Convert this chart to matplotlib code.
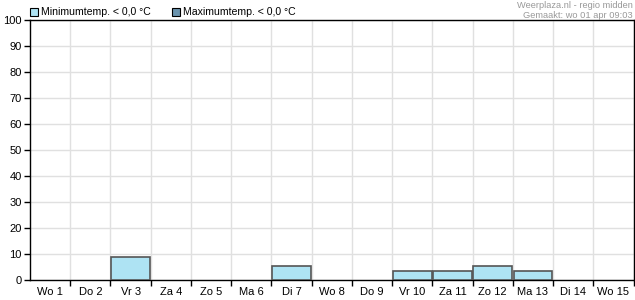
import numpy as np
import matplotlib
matplotlib.use("Agg")
import matplotlib.pyplot as plt
from matplotlib.patches import Rectangle

plt.rcParams["font.family"] = ["Liberation Sans", "DejaVu Sans"]

days = ["Wo 1", "Do 2", "Vr 3", "Za 4", "Zo 5", "Ma 6", "Di 7", "Wo 8",
        "Do 9", "Vr 10", "Za 11", "Zo 12", "Ma 13", "Di 14", "Wo 15"]
min_below_zero = [0, 0, 9, 0, 0, 0, 5.5, 0, 0, 3.5, 3.5, 5.5, 3.5, 0, 0]
max_below_zero = [0] * 15
yticks = list(range(0, 101, 10))

min_color = "#aee3f3"
max_color = "#6a93ad"

fig = plt.figure(figsize=(6.35, 3.0), dpi=100)
ax = fig.add_axes([30 / 635, 20 / 300, 603.5 / 635, 260 / 300])

x = np.arange(len(days))
for vals, col in [(min_below_zero, min_color), (max_below_zero, max_color)]:
    edges = ["#555555" if v > 0 else "none" for v in vals]
    ax.bar(x, vals, width=0.96, color=col, edgecolor=edges,
           linewidth=1.2, zorder=3)

ax.set_xlim(-0.5, len(days) - 0.5)
ax.set_ylim(0, 100)
ax.set_yticks(yticks)
ax.set_xticks(x + 0.5, minor=False)
ax.set_xticklabels([])
ax.set_xticks(x, minor=True)
ax.set_xticklabels(days, minor=True, fontsize=8)
ax.tick_params(axis="x", which="minor", length=0, pad=5)
ax.tick_params(axis="x", which="major", length=4, width=1, color="black")
ax.tick_params(axis="y", length=4, width=1, labelsize=8, pad=2)
ax.grid(True, which="major", color="#e0e0e0", linewidth=1, zorder=0)
for s in ax.spines.values():
    s.set_color("black")
    s.set_linewidth(1)

# legend drawn as in the original header
for lx, col, label in [(30, min_color, "Minimumtemp. < 0,0 °C"),
                       (172, max_color, "Maximumtemp. < 0,0 °C")]:
    fig.patches.append(Rectangle((lx / 635, 1 - 16 / 300), 8 / 635, 8 / 300,
                                 transform=fig.transFigure, facecolor=col,
                                 edgecolor="black", linewidth=0.8))
    fig.text((lx + 11) / 635, 1 - 12 / 300, label, fontsize=7.6,
             va="center", ha="left")

fig.text(633 / 635, 1 - 5 / 300, "Weerplaza.nl - regio midden",
         fontsize=6.7, color="#999999", ha="right", va="center")
fig.text(633 / 635, 1 - 15 / 300, "Gemaakt: wo 01 apr 09:03",
         fontsize=6.7, color="#999999", ha="right", va="center")

fig.savefig("out.png", dpi=100)
